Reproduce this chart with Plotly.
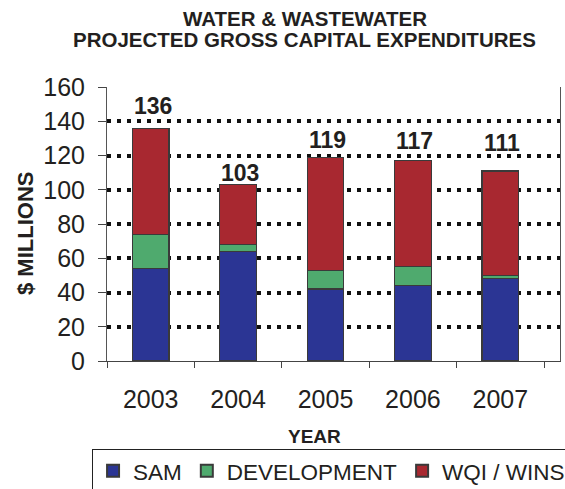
import plotly.graph_objects as go

# ---- data ----
years = ["2003", "2004", "2005", "2006", "2007"]
sam = [54, 64, 42, 44, 48]
development = [20, 4, 11, 11, 2]
wqi_wins = [62, 35, 66, 62, 61]
totals = [136, 103, 119, 117, 111]
y_ticks = [0, 20, 40, 60, 80, 100, 120, 140, 160]

# ---- style ----
BLUE = "#2B3594"
GREEN = "#4FAA6E"
RED = "#A82830"
EDGE = "#3A3A3A"
TXT = "#231F20"
FONT = "Liberation Sans, Arial, sans-serif"
LABEL_SHIFTS = [22, 12, 17, 20, 28]  # pixel offsets of total labels above bars

fig = go.Figure()
for name, vals, col in [("SAM", sam, BLUE), ("DEVELOPMENT", development, GREEN),
                        ("WQI / WINS", wqi_wins, RED)]:
    fig.add_trace(go.Bar(x=years, y=vals, name=name, width=0.42,
                         marker=dict(color=col, line=dict(color=EDGE, width=1.2))))

annotations = []
for i, (tot, sh) in enumerate(zip(totals, LABEL_SHIFTS)):
    annotations.append(dict(x=i, y=tot, xref="x", yref="y", text=str(tot),
                            showarrow=False, xshift=2, yshift=sh, yanchor="middle",
                            font=dict(family=FONT, size=23, color=TXT, weight="bold")))

annotations += [
    dict(xref="paper", yref="paper", x=0.437, y=1.25, text="WATER & WASTEWATER",
         showarrow=False, xanchor="center", yanchor="middle",
         font=dict(family=FONT, size=20.5, color=TXT, weight="bold")),
    dict(xref="paper", yref="paper", x=0.437, y=1.1734,
         text="PROJECTED GROSS CAPITAL EXPENDITURES",
         showarrow=False, xanchor="center", yanchor="middle",
         font=dict(family=FONT, size=20.5, color=TXT, weight="bold")),
    dict(xref="paper", yref="paper", x=-0.181, y=0.4635, text="$ MILLIONS",
         textangle=-90, showarrow=False, xanchor="center", yanchor="middle",
         font=dict(family=FONT, size=22, color=TXT, weight="bold")),
    dict(xref="paper", yref="paper", x=0.459, y=-0.277, text="YEAR",
         showarrow=False, xanchor="center", yanchor="middle",
         font=dict(family=FONT, size=19, color=TXT, weight="bold")),
]

fig.update_layout(
    width=565, height=489,
    margin=dict(l=107, r=5, t=87, b=128, autoexpand=False),
    paper_bgcolor="white", plot_bgcolor="white",
    barmode="stack",
    showlegend=True,
    legend=dict(orientation="h", xref="paper", yref="paper",
                x=-0.033, y=-0.32, xanchor="left", yanchor="top",
                bordercolor="#222", borderwidth=1, bgcolor="white",
                traceorder="normal",
                font=dict(family=FONT, size=22.5, color=TXT),
                itemsizing="constant"),
    annotations=annotations,
    font=dict(family=FONT, color=TXT),
)

fig.update_xaxes(
    type="category", range=[-0.5, 4.683], tickson="boundaries",
    ticks="outside", ticklen=6, tickcolor="#444", tickwidth=1,
    showline=True, linecolor="#444", linewidth=1,
    showgrid=False, ticklabelstandoff=16,
    tickfont=dict(family=FONT, size=25, color=TXT),
)
fig.update_yaxes(
    range=[0, 160], tickvals=y_ticks, ticktext=[str(v) for v in y_ticks],
    ticks="outside", ticklen=8, tickcolor="#444", tickwidth=1,
    showline=True, linecolor="#555", linewidth=1, mirror=True,
    showgrid=True, gridcolor="#111", gridwidth=3.5, griddash="4px,6px",
    zeroline=False, ticklabelstandoff=8,
    tickfont=dict(family=FONT, size=25, color=TXT),
)

fig.write_html("out.html", config={"displayModeBar": False},
               post_script="document.body.style.margin='0';document.body.style.overflow='hidden';")
